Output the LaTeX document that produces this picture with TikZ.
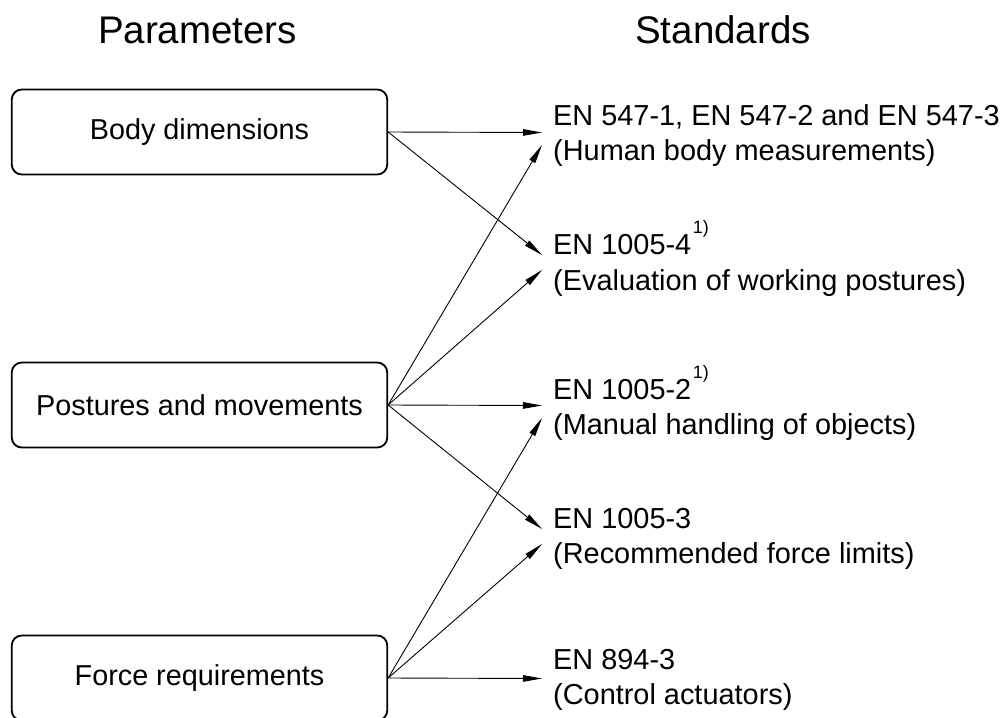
\documentclass[tikz,border=0pt]{standalone}
\usepackage{fontspec}
\setmainfont{Liberation Sans}
\usetikzlibrary{arrows.meta}
\newcommand\fnmark{\hspace{1.5pt}\raisebox{20.5pt}{\fontsize{18}{18}\selectfont 1)}}
\begin{document}
\begin{tikzpicture}[x=1pt,y=-1pt,
  param/.style={draw, line width=1.8pt, rounded corners=10pt, minimum width=375.5pt,
    minimum height=85pt, inner sep=0pt, font=\fontsize{28.8}{34}\selectfont},
  stdline/.style={anchor=base west, inner sep=0pt, font=\fontsize{28.9}{34}\selectfont},
  head/.style={anchor=base, inner sep=0pt, font=\fontsize{38.5}{46}\selectfont},
  conn/.style={line width=0.9pt, -{Triangle[length=19pt,width=6.5pt]}}]
\useasboundingbox (0,0) rectangle (1005,718);
% headers
\node[head] (hp) at (197.5,43) {Parameters};
\node[head] (hs) at (723,43) {Standards};
% parameter boxes
\node[param] (body) at (199.5,132) {Body dimensions};
\node[param] (post) at (199.5,405) {Postures and movements};
\node[param] (force) at (199.5,678) {Force requirements};
% standards
\node[stdline] (s1) at (553,125) {EN 547-1, EN 547-2 and EN 547-3};
\node[stdline] (s1b) at (553,160.5) {(Human body measurements)};
\node[stdline] (s2) at (553,254) {EN 1005-4\fnmark};
\node[stdline] (s2b) at (553,290) {(Evaluation of working postures)};
\node[stdline] (s3) at (553,399) {EN 1005-2\fnmark};
\node[stdline] (s3b) at (553,434.5) {(Manual handling of objects)};
\node[stdline] (s4) at (553,528) {EN 1005-3};
\node[stdline] (s4b) at (553,563.5) {(Recommended force limits)};
\node[stdline] (s5) at (553,669) {EN 894-3};
\node[stdline] (s5b) at (553,704.5) {(Control actuators)};
% arrow end points
\coordinate (t1a) at (542,132.5);
\coordinate (t1b) at (542,145);
\coordinate (t2a) at (542,255);
\coordinate (t2b) at (542,270);
\coordinate (t3a) at (542,405.5);
\coordinate (t3b) at (542,418);
\coordinate (t4a) at (542,529);
\coordinate (t4b) at (542,544);
\coordinate (t5a) at (542,678.5);
% connectors
\draw[conn] (body.east) -- (t1a);
\draw[conn] (body.east) -- (t2a);
\draw[conn] (post.east) -- (t1b);
\draw[conn] (post.east) -- (t2b);
\draw[conn] (post.east) -- (t3a);
\draw[conn] (post.east) -- (t4a);
\draw[conn] (force.east) -- (t3b);
\draw[conn] (force.east) -- (t4b);
\draw[conn] (force.east) -- (t5a);
\end{tikzpicture}
\end{document}
